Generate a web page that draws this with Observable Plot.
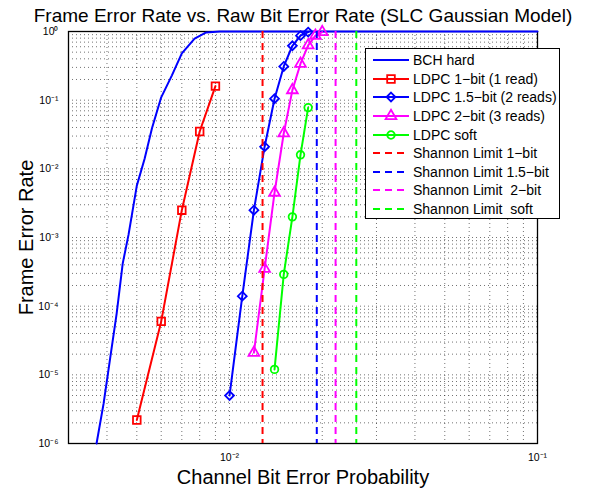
<!DOCTYPE html>
<html><head><meta charset="utf-8">
<script src="https://cdn.jsdelivr.net/npm/d3@7"></script>
<script src="https://cdn.jsdelivr.net/npm/@observablehq/plot@0.6"></script>
<style>
body{margin:0;background:#fff;}
#wrap{position:relative;width:590px;height:490px;font-family:"Liberation Sans",Arial,Helvetica,sans-serif;}
#legend{position:absolute;left:365px;top:48px;width:195px;height:171px;background:#fff;border:1px solid #000;box-sizing:border-box;padding-top:2px;}
.row{height:18.6px;display:flex;align-items:center;font-size:14px;white-space:pre;color:#000;}
.row svg{flex:none;}
</style></head><body><div id="wrap"><div id="legend"></div></div><script>
// ---- data ----
const bchX = [0.0037, 0.0039, 0.0041, 0.0043, 0.0045, 0.0047, 0.0050, 0.0053, 0.0056, 0.0060, 0.0065, 0.0070, 0.0077, 0.0084, 0.0093, 0.0100, 0.1];
const bchY = [1.0e-6, 3.8e-6, 1.8e-5, 7.8e-5, 4.2e-4, 1.1e-3, 5.7e-3, 1.4e-2, 3.9e-2, 0.11, 0.23, 0.48, 0.79, 0.97, 1.0, 1.0, 1.0];
const ldpc1X = [0.005, 0.006, 0.007, 0.008, 0.009];
const ldpc1Y = [2.2e-6, 6.0e-5, 2.5e-3, 3.5e-2, 1.6e-1];
const ldpc15X = [0.010, 0.011, 0.012, 0.013, 0.014, 0.015, 0.016, 0.017, 0.018];
const ldpc15Y = [5.0e-6, 1.4e-4, 2.5e-3, 2.1e-2, 1.05e-1, 3.1e-1, 6.2e-1, 8.7e-1, 0.98];
const ldpc2X = [0.012, 0.013, 0.014, 0.015, 0.016, 0.017, 0.018, 0.019, 0.020];
const ldpc2Y = [2.1e-5, 3.5e-4, 4.5e-3, 3.3e-2, 1.4e-1, 3.4e-1, 6.3e-1, 8.7e-1, 0.98];
const softX = [0.014, 0.015, 0.016, 0.017, 0.018];
const softY = [1.2e-5, 2.9e-4, 2.0e-3, 1.6e-2, 7.8e-2];
const shannonX = [0.0128, 0.0192, 0.0221, 0.0258];
const shannonNames = ["Shannon Limit 1\u2212bit", "Shannon Limit 1.5\u2212bit", "Shannon Limit  2\u2212bit", "Shannon Limit  soft"];
const xTicks = [0.01, 0.1];
const yTicks = [1, 1e-1, 1e-2, 1e-3, 1e-4, 1e-5, 1e-6];
const titleText = "Frame Error Rate vs. Raw Bit Error Rate (SLC Gaussian Model)";
const xLabel = "Channel Bit Error Probability";
const yLabel = "Frame Error Rate";

// ---- build ----
const zip = (xs, ys) => xs.map((x, i) => ({x, y: ys[i]}));
const bch = zip(bchX, bchY);
const series = [
  {name: "LDPC 1\u2212bit (1 read)", data: zip(ldpc1X, ldpc1Y), color: "#ff0000", symbol: "square", r: 4.3},
  {name: "LDPC 1.5\u2212bit (2 reads)", data: zip(ldpc15X, ldpc15Y), color: "#0000ff", symbol: "diamond2", r: 4},
  {name: "LDPC 2\u2212bit (3 reads)", data: zip(ldpc2X, ldpc2Y), color: "#ff00ff", symbol: "triangle", r: 4},
  {name: "LDPC soft", data: zip(softX, softY), color: "#00ff00", symbol: "circle", r: 3.8}
];
const shColors = ["#ff0000", "#0000ff", "#ff00ff", "#00ff00"];
const shannon = shannonX.map((x, i) => ({x, c: shColors[i]}));

const gridX = [], gridY = [];
for (let e = -4; e <= -1; e++) for (let k = 1; k <= 9; k++) {
  const v = k * Math.pow(10, e);
  if (v >= 0.003 - 1e-12 && v <= 0.1 + 1e-12) gridX.push(v);
}
for (let e = -6; e <= -1; e++) for (let k = 1; k <= 9; k++) gridY.push(k * Math.pow(10, e));
gridY.push(1);

const supMap = {"-": "\u207B", "0": "\u2070", "1": "\u00B9", "2": "\u00B2", "3": "\u00B3", "4": "\u2074", "5": "\u2075", "6": "\u2076", "7": "\u2077", "8": "\u2078", "9": "\u2079"};
const fmt = v => "10" + String(Math.round(Math.log10(v))).replace(/./g, c => supMap[c]);

const gridStyle = {stroke: "#000", strokeOpacity: 0.55, strokeDasharray: "1,3", strokeWidth: 1};

const marks = [
  Plot.ruleX(gridX, {x: d => d, ...gridStyle}),
  Plot.ruleY(gridY, {y: d => d, ...gridStyle}),
  Plot.frame({stroke: "#000", strokeWidth: 1.3}),
  Plot.axisX({ticks: xTicks, tickFormat: fmt, tickSize: 0, tickPadding: 10, fontSize: 10.5, label: null}),
  Plot.axisY({ticks: yTicks, tickFormat: fmt, tickSize: 0, tickPadding: 10, fontSize: 10.5, label: null}),
  Plot.line(bch, {x: "x", y: "y", stroke: "#0000ff", strokeWidth: 2})
];
for (const s of series) {
  marks.push(Plot.line(s.data, {x: "x", y: "y", stroke: s.color, strokeWidth: 2}));
  marks.push(Plot.dot(s.data, {x: "x", y: "y", stroke: s.color, fill: "none", symbol: s.symbol, r: s.r, strokeWidth: 1.8}));
}
marks.push(Plot.ruleX(shannon, {x: "x", stroke: "c", strokeWidth: 2, strokeDasharray: "7,5"}));
marks.push(Plot.text([titleText], {frameAnchor: "top", textAnchor: "middle", lineAnchor: "middle", dy: -16, fontSize: 19, fill: "#000"}));
marks.push(Plot.text([xLabel], {frameAnchor: "bottom", textAnchor: "middle", lineAnchor: "middle", dy: 34, fontSize: 20, fill: "#000"}));
marks.push(Plot.text([yLabel], {frameAnchor: "left", textAnchor: "middle", lineAnchor: "middle", dx: -42, rotate: -90, fontSize: 20, fill: "#000"}));

const chart = Plot.plot({
  width: 590, height: 490,
  marginLeft: 68, marginRight: 53, marginTop: 31, marginBottom: 47,
  x: {type: "log", domain: [0.003, 0.1]},
  y: {type: "log", domain: [1e-6, 1]},
  style: {fontFamily: "'Liberation Sans', Arial, Helvetica, sans-serif", background: "#fff", color: "#000"},
  marks
});
const wrap = document.getElementById("wrap");
wrap.insertBefore(chart, wrap.firstChild);

// ---- legend ----
const legend = document.getElementById("legend");
const items = [{name: "BCH hard", color: "#0000ff", dash: null, symbol: null}]
  .concat(series.map(s => ({name: s.name, color: s.color, dash: null, symbol: s.symbol, r: s.r})))
  .concat(shannonNames.map((n, i) => ({name: n, color: shColors[i], dash: "7,5", symbol: null})));
const symMap = {square: d3.symbolSquare, diamond2: d3.symbolDiamond2, triangle: d3.symbolTriangle, circle: d3.symbolCircle};
for (const it of items) {
  const row = document.createElement("div");
  row.className = "row";
  const svg = d3.create("svg").attr("width", 47).attr("height", 18);
  svg.append("line").attr("x1", 7).attr("x2", 43).attr("y1", 9).attr("y2", 9)
    .attr("stroke", it.color).attr("stroke-width", 2).attr("stroke-dasharray", it.dash);
  if (it.symbol) {
    svg.append("path").attr("transform", "translate(25,9)")
      .attr("d", d3.symbol(symMap[it.symbol], Math.PI * it.r * it.r)())
      .attr("fill", "none").attr("stroke", it.color).attr("stroke-width", 1.8);
  }
  row.appendChild(svg.node());
  const span = document.createElement("span");
  span.textContent = it.name;
  row.appendChild(span);
  legend.appendChild(row);
}
</script></body></html>
